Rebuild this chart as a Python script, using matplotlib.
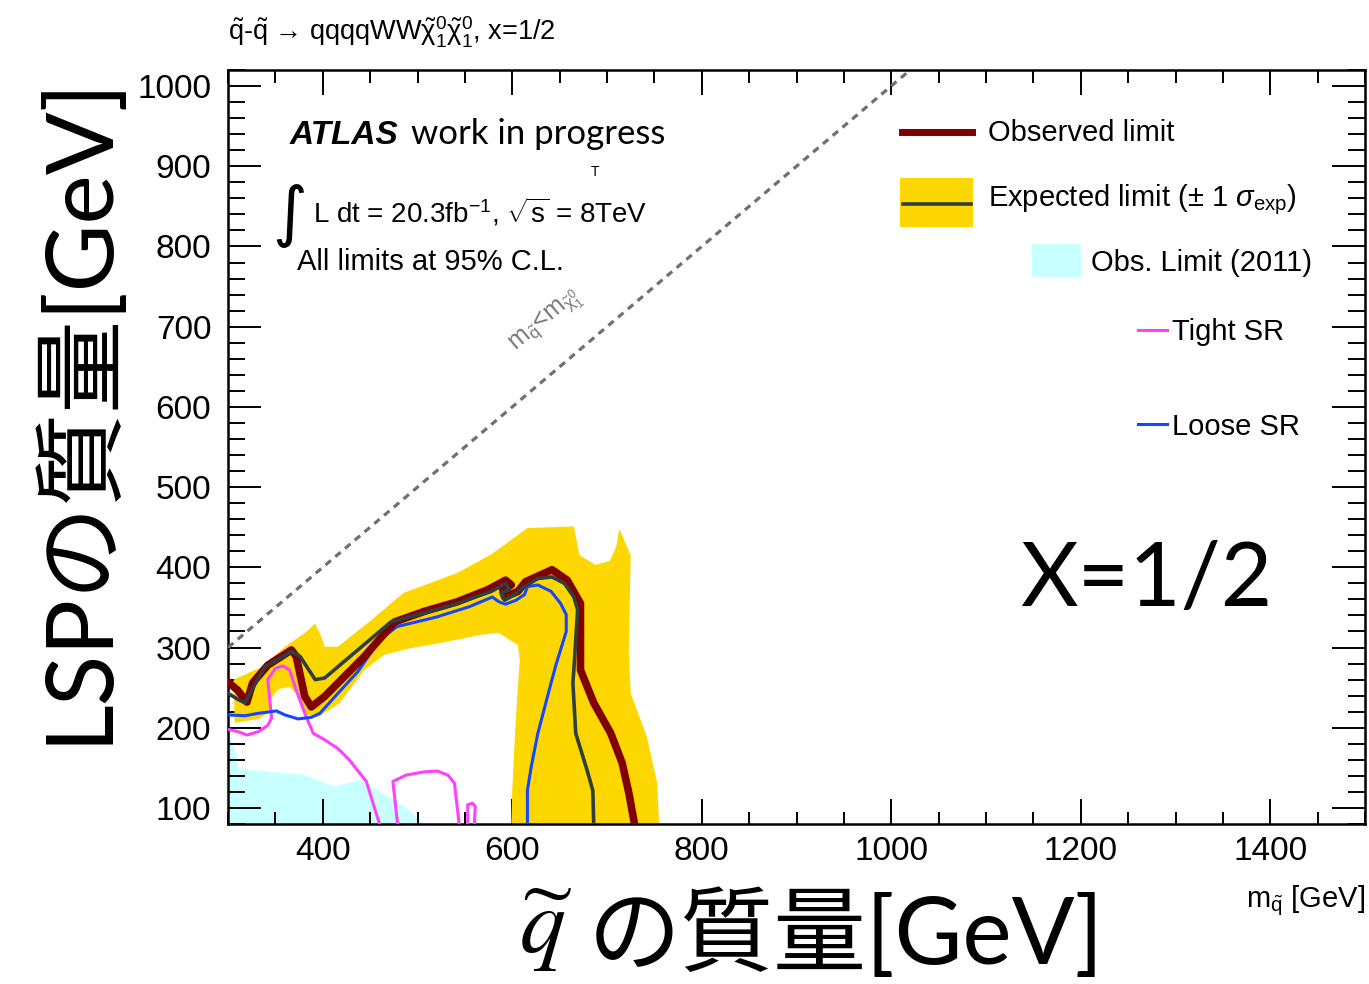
import matplotlib

matplotlib.use("Agg")
import matplotlib.pyplot as plt
from matplotlib.lines import Line2D
from matplotlib.patches import Rectangle
from matplotlib.ticker import MultipleLocator

# 観測限界 (2012, 20.3 fb^-1)
obs_mq = [300, 310, 320, 326, 342, 367, 372, 381, 388, 402, 444, 476, 507, 542, 574, 593,
          599, 590, 592, 606, 614, 642, 658, 672, 672, 686, 704, 716, 723, 729]
obs_mlsp = [257, 247, 232, 256, 278, 297, 289, 239, 226, 239, 289, 332, 345, 357, 372, 384,
            378, 372, 363, 370, 382, 397, 384, 355, 272, 231, 193, 156, 119, 80]

# 期待限界
exp_mq = [300, 311, 318, 325, 339, 367, 376, 392, 402, 437, 472, 507, 542, 578, 593, 597,
          588, 592, 602, 613, 627, 642, 655, 665, 669, 665, 664, 667, 679, 685, 686]
exp_mlsp = [243, 235, 231, 247, 276, 295, 289, 260, 262, 297, 332, 343, 355, 370, 380, 372,
            368, 359, 366, 376, 386, 388, 380, 363, 347, 272, 256, 193, 147, 122, 80]

# 期待限界 ±1σ バンド (外側 -> 内側の順で一周)
band_mq = [306, 336, 360, 381, 392, 399, 402, 416, 451, 485, 542, 579, 616, 665, 671, 688,
           703, 710, 713, 725, 723, 725, 742, 753, 755,
           599, 600, 602, 605, 608, 606, 586, 567, 526, 492, 465, 444, 418, 395, 381, 373,
           365, 353, 346, 342, 332, 307]
band_mlsp = [260, 276, 301, 318, 330, 312, 301, 301, 334, 368, 393, 417, 449, 451, 415, 403,
             408, 427, 448, 415, 297, 243, 189, 131, 80,
             80, 122, 172, 235, 284, 303, 318, 316, 306, 299, 291, 272, 231, 213, 217, 241,
             251, 248, 237, 218, 211, 206]

# 2011年の観測限界
old_mq = [300, 300, 303, 309, 311, 381, 411, 441, 458, 486, 507]
old_mlsp = [80, 200, 185, 168, 149, 141, 127, 135, 122, 102, 80]

# Loose SR
loose_mq = [300, 318, 332, 351, 360, 374, 388, 397, 413, 437, 460, 478, 520, 555, 579, 586,
            593, 604, 613, 616, 627, 641, 651, 657, 657, 646, 639, 627, 620, 616, 616]
loose_mlsp = [216, 215, 218, 221, 216, 211, 213, 218, 239, 270, 309, 326, 338, 351, 363, 357,
              354, 359, 366, 376, 378, 370, 355, 341, 320, 278, 247, 193, 151, 122, 80]

# Tight SR (3本の断片)
tight_segments = [
    ([300, 311, 320, 332, 342, 346, 342, 350, 358, 365, 372, 381, 390, 402, 416, 428, 446, 451, 460],
     [198, 195, 191, 195, 203, 212, 260, 274, 277, 272, 247, 218, 193, 185, 174, 160, 133, 114, 80]),
    ([479, 474, 488, 507, 521, 532, 539, 541, 544],
     [80, 133, 141, 145, 146, 141, 131, 110, 80]),
    ([553, 553, 558, 561, 560],
     [80, 104, 106, 102, 80]),
]

# m_squark = m_LSP の線
diag_m = [300, 1020]

x_ticks = [400, 600, 800, 1000, 1200, 1400]
y_ticks = [100, 200, 300, 400, 500, 600, 700, 800, 900, 1000]

C_OBS = "#800000"
C_EXP = "#2f3f3f"
C_BAND = "#ffd700"
C_OLD = "#c8ffff"
C_TIGHT = "#ff40ff"
C_LOOSE = "#1446ff"

plt.rcParams["font.family"] = ["Liberation Sans", "Noto Sans CJK JP"]
plt.rcParams["mathtext.fontset"] = "custom"
plt.rcParams["mathtext.rm"] = "Liberation Sans"
plt.rcParams["mathtext.it"] = "Liberation Sans:italic"
plt.rcParams["mathtext.bf"] = "Liberation Sans:bold"

W, H = 1369, 984
fig = plt.figure(figsize=(W / 100, H / 100), dpi=100)


def fxy(px, py):
    """ピクセル座標 -> figure 座標"""
    return px / W, 1 - py / H


ax = fig.add_axes([228 / W, 1 - 824 / H, (1365 - 228) / W, (824 - 70) / H])
ax.set_xlim(300, 1500)
ax.set_ylim(80, 1020)

ax.fill(old_mq, old_mlsp, color=C_OLD, lw=0, zorder=1)
ax.fill(band_mq, band_mlsp, color=C_BAND, lw=0, zorder=2)
for seg_x, seg_y in tight_segments:
    ax.plot(seg_x, seg_y, color=C_TIGHT, lw=2.2, zorder=3)
ax.plot(loose_mq, loose_mlsp, color=C_LOOSE, lw=2.2, zorder=4)
ax.plot(obs_mq, obs_mlsp, color=C_OBS, lw=5.5, zorder=5)
ax.plot(exp_mq, exp_mlsp, color=C_EXP, lw=2.6, zorder=6)
ax.plot(diag_m, diag_m, color="#707070", lw=2.3, ls=(0, (2.2, 1.8)), zorder=3)

ax.set_xticks(x_ticks)
ax.set_yticks(y_ticks)
ax.xaxis.set_minor_locator(MultipleLocator(50))
ax.yaxis.set_minor_locator(MultipleLocator(20))
ax.tick_params(which="both", direction="in", top=True, right=True, width=1.4, colors="black")
ax.tick_params(axis="x", which="major", length=18, labelsize=24, pad=9)
ax.tick_params(axis="x", which="minor", length=9)
ax.tick_params(axis="y", which="major", length=24, labelsize=24, pad=12)
ax.tick_params(axis="y", which="minor", length=12)
for sp in ax.spines.values():
    sp.set_linewidth(1.8)

# 対角線ラベル
fig.text(*fxy(546, 322), r"$\mathrm{m_{\tilde{q}}}$<$\mathrm{m_{\tilde{\chi}^{0}_{1}}}$",
         fontsize=18, color="#777777", rotation=40, ha="center", va="center")

# 上部のプロセス表記
fig.text(*fxy(228, 41),
         r"$\mathrm{\tilde{q}}$-$\mathrm{\tilde{q}}$ → qqqqWW"
         r"$\mathrm{\tilde{\chi}^{0}_{1}\tilde{\chi}^{0}_{1}}$, x=1/2",
         fontsize=19.5, ha="left", va="baseline")

# ATLAS ラベル
fig.text(*fxy(290, 144), "ATLAS", fontsize=24, fontweight="bold", fontstyle="italic",
         ha="left", va="baseline")
fig.text(*fxy(411, 144), "work in progress", fontsize=25, family=["Lato", "DejaVu Sans"],
         ha="left", va="baseline")
fig.text(*fxy(595, 176), "T", fontsize=10, ha="center", va="baseline")
fig.text(*fxy(289, 216), r"$\int$", fontsize=34, math_fontfamily="dejavusans",
         ha="center", va="center")
fig.text(*fxy(313, 223), r"L dt = 20.3fb$^{-1}$, $\sqrt{\mathrm{s}}$ = 8TeV", fontsize=20,
         ha="left", va="baseline")
fig.text(*fxy(297, 270), "All limits at 95% C.L.", fontsize=21, ha="left", va="baseline")

# 凡例
fig.add_artist(Line2D([902 / W, 972 / W], [fxy(0, 132)[1]] * 2, color=C_OBS, lw=5))
fig.text(*fxy(988, 141), "Observed limit", fontsize=21, ha="left", va="baseline")
fig.add_artist(Rectangle(fxy(900, 227), 73 / W, 49 / H, color=C_BAND, lw=0))
fig.add_artist(Line2D([903 / W, 971 / W], [fxy(0, 204)[1]] * 2, color=C_EXP, lw=2.6))
fig.text(*fxy(988, 206), r"Expected limit ($\pm$ 1 $\sigma_{\mathrm{exp}}$)", fontsize=21,
         ha="left", va="baseline")
fig.add_artist(Rectangle(fxy(1032, 277), 49 / W, 33 / H, color=C_OLD, lw=0))
fig.text(*fxy(1091, 271), "Obs. Limit (2011)", fontsize=21, ha="left", va="baseline")
fig.add_artist(Line2D([1138 / W, 1167 / W], [fxy(0, 330)[1]] * 2, color=C_TIGHT, lw=2.2))
fig.text(*fxy(1172, 340), "Tight SR", fontsize=21, ha="left", va="baseline")
fig.add_artist(Line2D([1138 / W, 1167 / W], [fxy(0, 424)[1]] * 2, color=C_LOOSE, lw=2.2))
fig.text(*fxy(1172, 435), "Loose SR", fontsize=21, ha="left", va="baseline")

# x=1/2 の大きな表記
fig.text(*fxy(1020, 606), "X=1/2", fontsize=64, family=["Lato", "DejaVu Sans"],
         ha="left", va="baseline")

# 軸タイトル
fig.text(*fxy(1365, 907), r"$\mathrm{m_{\tilde{q}}}$ [GeV]", fontsize=21,
         ha="right", va="baseline")
fig.text(*fxy(76, 409), "LSPの質量[GeV]", fontsize=67, rotation=90,
         family=["Lato", "Noto Sans CJK JP"], ha="center", va="center")
fig.text(*fxy(546, 930), r"$\widetilde{q}$", fontsize=66, math_fontfamily="stix",
         ha="center", va="center")
fig.text(*fxy(588, 935), "の質量[GeV]", fontsize=67,
         family=["Lato", "Noto Sans CJK JP"], ha="left", va="center")

fig.savefig("out.png", dpi=100)
plt.close(fig)
